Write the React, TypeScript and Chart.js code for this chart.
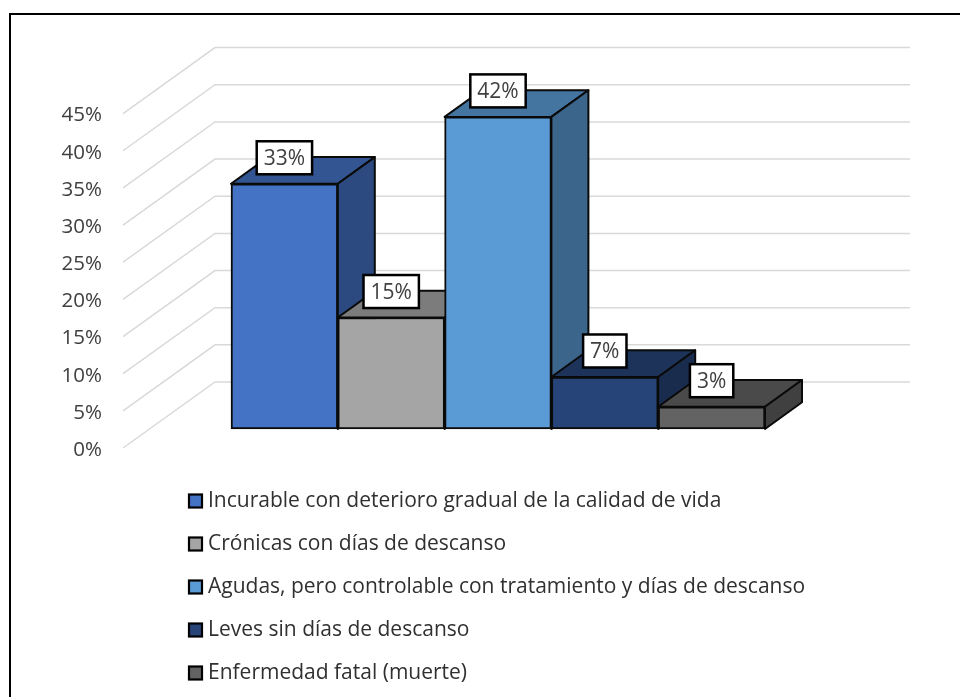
import { useEffect, useRef } from "react";
import { Chart, registerables } from "chart.js";

Chart.register(...registerables);

const categories = [
  "Incurable con deterioro gradual de la calidad de vida",
  "Crónicas con días de descanso",
  "Agudas, pero controlable con tratamiento y días de descanso",
  "Leves sin días de descanso",
  "Enfermedad fatal (muerte)",
];
const shares = [33, 15, 42, 7, 3];
const faceColors = ["#4472C4", "#A5A5A5", "#5B9BD5", "#264478", "#636363"];

const FONT = '"Open Sans", sans-serif';
const BAR_SHIFT_Y = -19;
const DEPTH_X = 37;
const DEPTH_Y = -26.7;
const WALL = { startX: 123, cornerX: 215, endX: 910, rise: -66 };

// Darkens a hex colour for the shaded faces of a box.
function shade(hex: string, factor: number): string {
  const n = parseInt(hex.slice(1), 16);
  const r = Math.round(((n >> 16) & 255) * factor);
  const g = Math.round(((n >> 8) & 255) * factor);
  const b = Math.round((n & 255) * factor);
  return `rgb(${r},${g},${b})`;
}

function polygon(ctx: CanvasRenderingContext2D, pts: number[][], fill: string) {
  ctx.beginPath();
  pts.forEach(([x, y], i) => (i ? ctx.lineTo(x, y) : ctx.moveTo(x, y)));
  ctx.closePath();
  ctx.fillStyle = fill;
  ctx.fill();
  ctx.strokeStyle = "#0a0a0a";
  ctx.lineWidth = 2;
  ctx.stroke();
}

// Perspective walls: each value gets a diagonal plus a back-wall line.
const wallPlugin = {
  id: "wall",
  beforeDatasetsDraw(chart: any) {
    const { ctx } = chart;
    const y = chart.scales.y;
    ctx.save();
    ctx.strokeStyle = "#d9d9d9";
    ctx.lineWidth = 1.5;
    y.ticks.forEach((t: any) => {
      const py = y.getPixelForValue(t.value);
      ctx.beginPath();
      ctx.moveTo(WALL.startX, py);
      ctx.lineTo(WALL.cornerX, py + WALL.rise);
      ctx.lineTo(WALL.endX, py + WALL.rise);
      ctx.stroke();
    });
    ctx.restore();
  },
};

// Paints the boxes left to right so nearer faces overlap correctly.
const boxPlugin = {
  id: "boxes",
  beforeDatasetsDraw(chart: any) {
    const { ctx } = chart;
    const bars = chart.getDatasetMeta(0).data;
    ctx.save();
    ctx.translate(0, BAR_SHIFT_Y);
    ctx.lineJoin = "round";
    bars.forEach((bar: any, i: number) => {
      const { x, y, base, width } = bar.getProps(["x", "y", "base", "width"], true);
      const l = x - width / 2;
      const r = x + width / 2;
      polygon(
        ctx,
        [[l, y], [l + DEPTH_X, y + DEPTH_Y], [r + DEPTH_X, y + DEPTH_Y], [r, y]],
        shade(faceColors[i], 0.75),
      );
      polygon(
        ctx,
        [[r, y], [r + DEPTH_X, y + DEPTH_Y], [r + DEPTH_X, base + DEPTH_Y], [r, base]],
        shade(faceColors[i], 0.65),
      );
      bar.draw(ctx);
    });
    ctx.restore();
    return false;
  },
};

// Boxed value labels above each bar, then the stacked legend below the plot.
const annotationPlugin = {
  id: "annotations",
  afterDraw(chart: any) {
    const { ctx } = chart;
    const bars = chart.getDatasetMeta(0).data;
    ctx.save();
    ctx.font = `21px ${FONT}`;
    ctx.textBaseline = "middle";
    bars.forEach((bar: any, i: number) => {
      const text = `${shares[i]}%`;
      const w = ctx.measureText(text).width + 14;
      const h = 33;
      const cx = bar.x;
      const cy = bar.y + BAR_SHIFT_Y - 26;
      ctx.fillStyle = "#ffffff";
      ctx.fillRect(cx - w / 2, cy - h / 2, w, h);
      ctx.strokeStyle = "#000000";
      ctx.lineWidth = 2.5;
      ctx.strokeRect(cx - w / 2, cy - h / 2, w, h);
      ctx.fillStyle = "#404040";
      ctx.textAlign = "center";
      ctx.fillText(text, cx, cy + 1);
    });

    ctx.font = `21px ${FONT}`;
    ctx.textAlign = "left";
    categories.forEach((label, i) => {
      const cy = 501 + i * 43;
      ctx.fillStyle = faceColors[i];
      ctx.fillRect(189, cy - 6.5, 13, 13);
      ctx.strokeStyle = "#000000";
      ctx.lineWidth = 2.2;
      ctx.strokeRect(189, cy - 6.5, 13, 13);
      ctx.fillStyle = "#303030";
      ctx.fillText(label, 208, cy);
    });
    ctx.restore();
  },
};

export default function App() {
  const canvasRef = useRef<HTMLCanvasElement | null>(null);

  useEffect(() => {
    const chart = new Chart(canvasRef.current!, {
      type: "bar",
      data: {
        labels: categories,
        datasets: [
          {
            data: shares,
            backgroundColor: faceColors,
            borderColor: "#0a0a0a",
            borderWidth: 2,
            borderSkipped: false,
            categoryPercentage: 1,
            barPercentage: 1,
          },
        ],
      },
      options: {
        animation: false,
        responsive: false,
        layout: { padding: { left: 0, top: 113.6, right: 195, bottom: 249 } },
        plugins: { legend: { display: false }, tooltip: { enabled: false } },
        scales: {
          x: { display: false },
          y: {
            min: 0,
            max: 45,
            grid: { display: false, drawTicks: false },
            border: { display: false },
            afterFit(scale: any) {
              scale.width = 231;
              scale.paddingTop = 0;
              scale.paddingBottom = 0;
            },
            ticks: {
              stepSize: 5,
              padding: 129,
              labelOffset: 2,
              color: "#404040",
              font: { family: FONT, size: 20.5 },
              callback: (v: any) => `${v}%`,
            },
          },
        },
      },
      plugins: [wallPlugin, boxPlugin, annotationPlugin],
    } as any);
    return () => chart.destroy();
  }, []);

  return (
    <div style={{ position: "fixed", left: 0, top: 0, width: 960, height: 697, overflow: "hidden", background: "#fff" }}>
      <canvas ref={canvasRef} width={960} height={697} style={{ position: "absolute", left: 0, top: 0 }} />
      <div
        style={{
          position: "absolute",
          left: 9,
          top: 13,
          width: 1000,
          height: 800,
          borderTop: "2.5px solid #000",
          borderLeft: "2.5px solid #000",
        }}
      />
    </div>
  );
}
